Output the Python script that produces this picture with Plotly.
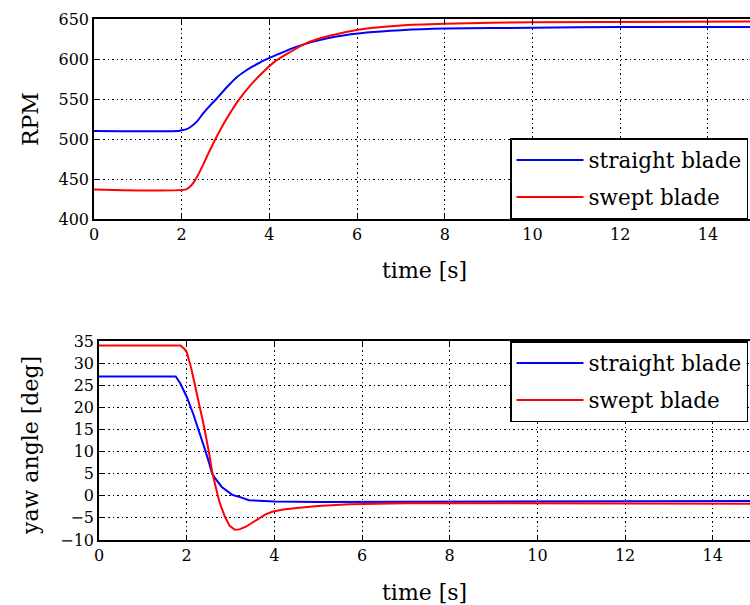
import plotly.graph_objects as go

# ---- data ----
t_rpm_straight = [0, 1.9, 2.0, 2.1, 2.2, 2.35, 2.49, 2.65, 2.79, 2.87, 3.05, 3.25, 3.45, 3.63, 3.9, 4.2, 4.5, 4.77, 5.1, 5.53, 6.22, 7.0, 8.0, 10.0, 12.0, 15.0]
rpm_straight = [510, 510, 511, 512, 515, 522, 532, 542, 550, 555, 566, 577, 585, 591, 599, 606, 613, 618, 623, 628, 633, 636, 638, 639, 640, 640]

t_rpm_swept = [0, 2.1, 2.2, 2.3, 2.4, 2.49, 2.6, 2.77, 3.0, 3.29, 3.63, 3.9, 4.13, 4.39, 4.77, 5.1, 5.53, 6.22, 7.0, 8.0, 10.0, 15.0]
rpm_swept = [437, 437, 441, 448, 458, 468, 481, 500, 523, 548, 571, 586, 597, 606, 618, 625, 631, 638, 642, 644, 646, 647]

t_yaw_straight = [0, 1.75, 1.85, 2.0, 2.15, 2.28, 2.4, 2.51, 2.58, 2.66, 2.8, 3.04, 3.19, 3.42, 4.0, 5.0, 8.0, 15.0]
yaw_straight = [27, 27, 25.5, 22.4, 18.5, 14.8, 11, 7.5, 5.0, 3.8, 2.0, 0.2, -0.2, -1.0, -1.3, -1.4, -1.3, -1.2]

t_yaw_swept = [0, 1.86, 1.95, 2.0, 2.1, 2.28, 2.4, 2.51, 2.58, 2.66, 2.75, 2.87, 2.98, 3.1, 3.2, 3.35, 3.5, 3.65, 3.8, 3.95, 4.2, 4.56, 5.0, 5.7, 7.0, 9.0, 15.0]
yaw_swept = [34, 34, 33.2, 32.5, 29, 21, 15.5, 9.7, 5.5, 2.1, -1.5, -4.7, -6.8, -7.7, -7.6, -7.0, -6.0, -5.0, -4.2, -3.6, -3.1, -2.7, -2.3, -1.9, -1.7, -1.7, -1.8]

rpm_ticks = [400, 450, 500, 550, 600, 650]
yaw_ticks = [-10, -5, 0, 5, 10, 15, 20, 25, 30, 35]
time_ticks = [0, 2, 4, 6, 8, 10, 12, 14]

names = ["straight blade", "swept blade"]
colors = ["#0000ff", "#ff0000"]

FONT = "DejaVu Serif"
W, H = 750, 605

fig = go.Figure()
fig.add_trace(go.Scatter(x=t_rpm_straight, y=rpm_straight, mode="lines", name=names[0], legendgroup="a",
                         line=dict(color=colors[0], width=2, shape="spline", smoothing=0.6),
                         xaxis="x", yaxis="y", legend="legend"))
fig.add_trace(go.Scatter(x=t_rpm_swept, y=rpm_swept, mode="lines", name=names[1], legendgroup="b",
                         line=dict(color=colors[1], width=2, shape="spline", smoothing=0.6),
                         xaxis="x", yaxis="y", legend="legend"))
fig.add_trace(go.Scatter(x=t_yaw_straight, y=yaw_straight, mode="lines", name=names[0], legendgroup="c",
                         line=dict(color=colors[0], width=2), xaxis="x2", yaxis="y2", legend="legend2"))
fig.add_trace(go.Scatter(x=t_yaw_swept, y=yaw_swept, mode="lines", name=names[1], legendgroup="d",
                         line=dict(color=colors[1], width=2), xaxis="x2", yaxis="y2", legend="legend2"))

axis_common = dict(showline=True, linecolor="black", linewidth=1.5, ticks="inside", ticklen=5,
                   tickcolor="black", tickwidth=1, showgrid=True, gridcolor="black", griddash="1.5px,3px",
                   gridwidth=1, zeroline=False, tickfont=dict(family=FONT, size=16, color="black"))

top_dom = [1 - 219 / H, 1 - 19 / H]
bot_dom = [1 - 540 / H, 1 - 341 / H]

leg_common = dict(x=510 / W, xanchor="left", bgcolor="white", bordercolor="black", borderwidth=1.5,
                  itemwidth=67, tracegroupgap=6, font=dict(family=FONT, size=21.5, color="black"))

fig.update_layout(
    width=W, height=H,
    margin=dict(l=0, r=0, t=0, b=0, autoexpand=False),
    plot_bgcolor="white", paper_bgcolor="white",
    font=dict(family=FONT, color="black"),
    xaxis=dict(domain=[94 / W, 1], range=[0, 14.96], tickvals=time_ticks, anchor="y",
               mirror="ticks", **axis_common),
    yaxis=dict(domain=top_dom, range=[400, 650], tickvals=rpm_ticks, anchor="x", **axis_common),
    xaxis2=dict(domain=[99 / W, 1], range=[0, 14.85], tickvals=time_ticks, anchor="y2",
                mirror="ticks", **axis_common),
    yaxis2=dict(domain=bot_dom, range=[-10, 35], tickvals=yaw_ticks, anchor="x2", **axis_common),
    legend=dict(y=1 - 219 / H, yanchor="bottom", **leg_common),
    legend2=dict(y=1 - 341 / H, yanchor="top", **leg_common),
    showlegend=True,
)

ann = [
    dict(text="RPM", x=30 / W, y=1 - 119 / H, textangle=-90),
    dict(text="time [s]", x=424 / W, y=1 - 270 / H, textangle=0),
    dict(text="yaw angle [deg]", x=30 / W, y=1 - 446 / H, textangle=-90),
    dict(text="time [s]", x=424 / W, y=1 - 592 / H, textangle=0),
]
for a in ann:
    fig.add_annotation(xref="paper", yref="paper", showarrow=False, xanchor="center", yanchor="middle",
                       font=dict(family=FONT, size=22, color="black"), **a)

fig.write_html("out.html", config={"displayModeBar": False},
               post_script="document.body.style.margin='0';document.body.style.overflow='hidden';")
